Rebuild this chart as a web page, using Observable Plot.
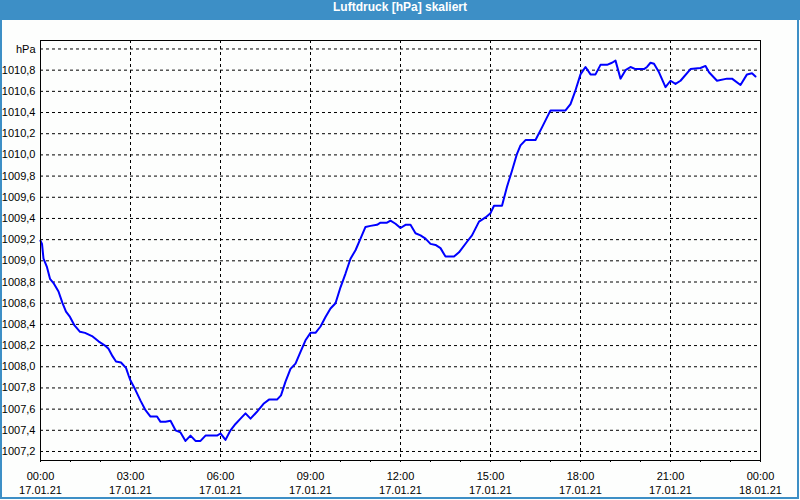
<!DOCTYPE html>
<html><head><meta charset="utf-8">
<script src="https://cdn.jsdelivr.net/npm/d3@7"></script>
<script src="https://cdn.jsdelivr.net/npm/@observablehq/plot@0.6"></script>
<style>
body{margin:0;background:#fff;}
#wrap{position:relative;width:800px;height:500px;background:#fdfefd;overflow:hidden}
#title{height:20px;line-height:20px;background:#3d8fc6;color:#fff;font:bold 12px "Liberation Sans",sans-serif;text-align:center}
#border{position:absolute;left:0;top:20px;width:799px;height:479px;box-sizing:border-box;border:2px solid #3d8fc6;border-top:none;pointer-events:none}
#chart svg{display:block}
</style></head>
<body>
<div id="wrap">
<div id="title">Luftdruck [hPa] skaliert</div>
<div id="chart"></div>
<div id="border"></div>
</div>
<script>
const times = [
"00:00","00:03","00:06","00:13","00:19","00:26","00:36","00:44","00:51","00:59",
"01:08","01:19","01:29","01:43","01:56","02:09","02:16","02:24","02:31","02:41",
"02:51","02:56","03:00","03:10","03:20","03:30","03:40","03:53","04:00","04:10",
"04:20","04:30","04:40","04:50","05:00","05:10","05:20","05:30","05:53","06:00",
"06:10","06:20","06:30","06:40","06:50","07:00","07:12","07:26","07:37","07:53",
"08:01","08:10","08:20","08:30","08:40","08:50","09:00","09:10","09:20","09:30",
"09:40","09:50","10:00","10:10","10:20","10:30","10:40","10:50","11:00","11:13",
"11:20","11:33","11:40","11:50","12:00","12:10","12:20","12:30","12:40","12:50",
"13:00","13:10","13:20","13:30","13:47","13:57","14:13","14:23","14:37","14:50",
"15:00","15:07","15:23","15:33","15:43","15:53","16:00","16:10","16:30","16:43",
"17:00","17:30","17:40","17:50","18:00","18:10","18:20","18:30","18:40","18:53",
"19:03","19:10","19:20","19:30","19:40","19:50","20:07","20:13","20:20","20:27",
"20:37","20:50","21:00","21:10","21:20","21:40","22:00","22:10","22:17","22:33",
"22:53","23:03","23:20","23:33","23:43","23:50"];
const values = [
1009.19,1009.16,1009.02,1008.94,1008.83,1008.79,1008.71,1008.60,1008.52,1008.47,
1008.39,1008.33,1008.32,1008.29,1008.24,1008.20,1008.17,1008.10,1008.05,1008.04,
1007.99,1007.92,1007.87,1007.78,1007.68,1007.59,1007.53,1007.53,1007.48,1007.48,
1007.49,1007.40,1007.38,1007.30,1007.35,1007.30,1007.30,1007.35,1007.35,1007.37,
1007.31,1007.40,1007.46,1007.51,1007.56,1007.51,1007.57,1007.65,1007.69,1007.69,
1007.73,1007.86,1007.98,1008.03,1008.14,1008.25,1008.32,1008.32,1008.38,1008.47,
1008.55,1008.60,1008.75,1008.88,1009.02,1009.10,1009.21,1009.32,1009.33,1009.34,
1009.36,1009.36,1009.38,1009.35,1009.31,1009.34,1009.34,1009.26,1009.24,1009.21,
1009.16,1009.15,1009.12,1009.04,1009.04,1009.08,1009.18,1009.24,1009.37,1009.41,
1009.45,1009.52,1009.52,1009.70,1009.85,1010.01,1010.09,1010.14,1010.14,1010.26,
1010.42,1010.42,1010.48,1010.61,1010.76,1010.83,1010.76,1010.76,1010.85,1010.85,
1010.87,1010.89,1010.72,1010.80,1010.83,1010.81,1010.81,1010.83,1010.87,1010.86,
1010.78,1010.64,1010.70,1010.67,1010.70,1010.81,1010.82,1010.84,1010.78,1010.70,
1010.72,1010.72,1010.66,1010.76,1010.77,1010.74];
const yTicks = [1007.2,1007.4,1007.6,1007.8,1008.0,1008.2,1008.4,1008.6,1008.8,1009.0,1009.2,1009.4,1009.6,1009.8,1010.0,1010.2,1010.4,1010.6,1010.8,1011.0];
const yUnitLabel = "hPa";
const xTickHours = [0,3,6,9,12,15,18,21,24];
const startDay = Date.UTC(2021,0,17);

const data = times.map((t,i)=>{const [h,m]=t.split(":").map(Number);return {date:new Date(startDay+(h*60+m)*60000), value:values[i]};});
const xTicks = xTickHours.map(h=>new Date(startDay+h*3600000));
const hourTicks = d3.range(0,25).map(h=>new Date(startDay+h*3600000));
const fmtY = d => Math.abs(d-1011)<1e-6 ? yUnitLabel : d.toFixed(1).replace(".",",");
const dash = {stroke:"#000",strokeOpacity:1,strokeDasharray:"3,3"};

const chart = Plot.plot({
  width:800,height:480,marginTop:20,marginBottom:40,marginLeft:40,marginRight:40,
  style:{fontFamily:"'Liberation Sans',sans-serif",fontSize:"11px",color:"#000",background:"transparent"},
  x:{type:"utc",domain:[new Date(startDay),new Date(startDay+86400000)]},
  y:{domain:[1007.115,1011.08]},
  marks:[
    Plot.gridY(yTicks,dash),
    Plot.gridX(xTicks,dash),
    Plot.line(data,{x:"date",y:"value",stroke:"#0000ff",strokeWidth:2}),
    Plot.frame({stroke:"#000"}),
    Plot.axisY(yTicks,{tickSize:0,tickPadding:5,tickFormat:fmtY,label:null}),
    Plot.axisX(hourTicks,{tickSize:2,tickFormat:()=>"",label:null}),
    Plot.axisX(xTicks,{tickSize:0,tickPadding:12,tickFormat:d3.utcFormat("%H:%M"),label:null}),
    Plot.axisX(xTicks,{tickSize:0,tickPadding:26,tickFormat:d3.utcFormat("%d.%m.%y"),label:null})
  ]
});
document.getElementById("chart").appendChild(chart);
</script>
</body></html>
